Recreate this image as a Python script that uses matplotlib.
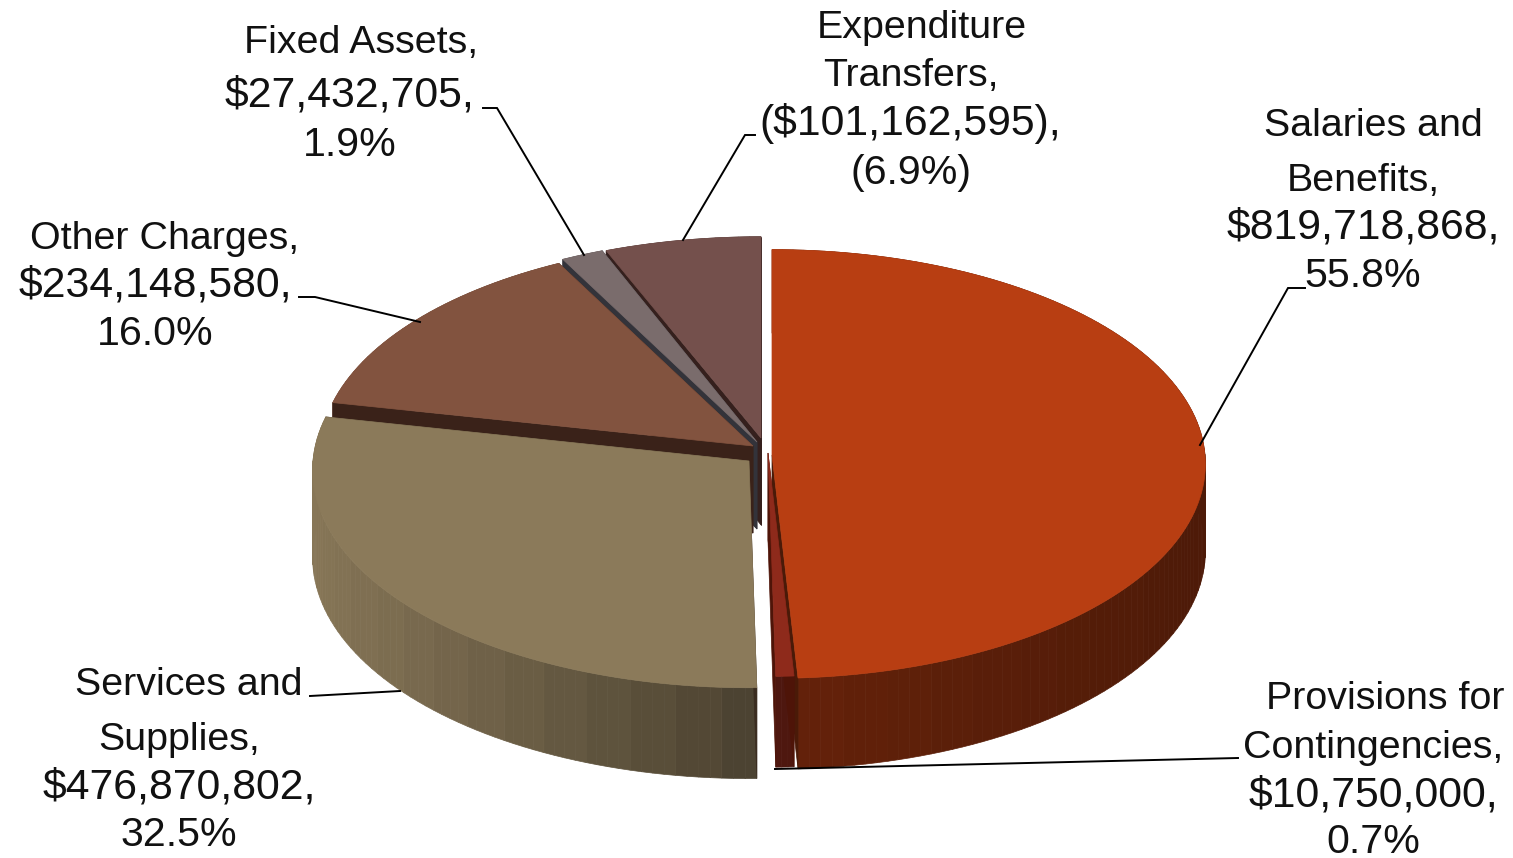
import numpy as np
import matplotlib
matplotlib.use("Agg")
import matplotlib.pyplot as plt
from matplotlib.patches import Polygon

plt.rcParams["font.family"] = ["Liberation Sans", "DejaVu Sans"]

# slice values, clockwise from 12 o'clock (negative one drawn by its size)
categories = ["Salaries and Benefits", "Provisions for Contingencies", "Services and Supplies",
              "Other Charges", "Fixed Assets", "Expenditure Transfers"]
amounts = [819718868, 10750000, 476870802, 234148580, 27432705, -101162595]

label_lines = [
    ["Salaries and", "Benefits,", "$819,718,868,", "55.8%"],
    ["Provisions for", "Contingencies,", "$10,750,000,", "0.7%"],
    ["Services and", "Supplies,", "$476,870,802,", "32.5%"],
    ["Other Charges,", "$234,148,580,", "16.0%"],
    ["Fixed Assets,", "$27,432,705,", "1.9%"],
    ["Expenditure", "Transfers,", "($101,162,595),", "(6.9%)"],
]

# styling / layout, pixels of the 1513x858 picture
top_colors = ["#B83E12", "#8E2A1B", "#8B7A5A", "#82533F", "#7A6C6C", "#74504C"]
face_colors = ["#4A1A08", "#4E1408", "#3A2C20", "#3A2219", "#33333A", "#35201D"]
apex = [(772, 455), (768, 453), (749, 461), (753, 446), (757, 442), (761, 438)]
rx_scale = [1.0, 1.0, 1.007, 1.0, 1.0, 1.0]
ry_scale = [1.0, 1.0, 1.015, 1.0, 1.0, 0.98]
label_pos = [
    [(1373, 126), (1363, 181), (1363, 228), (1363, 276)],
    [(1385, 699), (1373, 748), (1373, 795), (1373, 842)],
    [(189, 685), (179, 740), (179, 787), (179, 835)],
    [(165, 239), (155, 286), (155, 334)],
    [(361, 43), (350, 96), (350, 145)],
    [(922, 28), (911, 76), (910, 123), (911, 173)],
]
leaders = [
    [(1305, 288), (1288, 288), (1200, 445)],
    [(1238, 758), (775, 769)],
    [(310, 696), (400, 691)],
    [(299, 297), (315, 297), (420, 322)],
    [(483, 108), (497, 108), (584, 255)],
    [(755, 135), (745, 135), (683, 240)],
]

RX, RY, DEPTH, K = 433, 214, 87, 0.042


def project(i, x, y, z=0.0):
    p = 1 / (1 + K * y)
    return (apex[i][0] + x * RX * rx_scale[i] * p,
            apex[i][1] - y * RY * ry_scale[i] * p + z * DEPTH * p)


def shade(color, t):
    # wall brightness goes with the horizontal position on the rim, in wide bands
    band = np.round(t / np.radians(6)) * np.radians(6)
    f = np.interp(np.sin(band), [-1, 0, 1], [0.97, 0.55, 0.42])
    return tuple(np.array(matplotlib.colors.to_rgb(color)) * f)


def label_size(line):
    # digits run wider than the letters in the original face
    if line.rstrip(")").endswith("%"):
        return 29.6
    return 30.8 if line[0] in "$(" else 28.4


fig = plt.figure(figsize=(15.13, 8.58), dpi=100)
ax = fig.add_axes([0, 0, 1, 1])
ax.set_xlim(0, 1513)
ax.set_ylim(858, 0)
ax.axis("off")

shares = np.abs(amounts) / np.abs(amounts).sum()
edges = np.radians(np.concatenate([[0], np.cumsum(shares) * 360]))

# painter's order: back slices first, the two front ones last
for i in [5, 4, 3, 0, 2, 1]:
    ts = np.linspace(edges[i], edges[i + 1], max(4, int((edges[i + 1] - edges[i]) * 40)))
    # rim
    for a, b in zip(ts[:-1], ts[1:]):
        quad = [project(i, np.sin(a), np.cos(a)), project(i, np.sin(b), np.cos(b)),
                project(i, np.sin(b), np.cos(b), 1), project(i, np.sin(a), np.cos(a), 1)]
        c = shade(top_colors[i], (a + b) / 2)
        ax.add_patch(Polygon(quad, closed=True, fc=c, ec=c, lw=0.5))
    # cut faces
    for t in (edges[i], edges[i + 1]):
        quad = [project(i, 0, 0), project(i, np.sin(t), np.cos(t)),
                project(i, np.sin(t), np.cos(t), 1), project(i, 0, 0, 1)]
        ax.add_patch(Polygon(quad, closed=True, fc=face_colors[i], ec=face_colors[i], lw=0.5))
    # top
    top = [project(i, 0, 0)] + [project(i, np.sin(t), np.cos(t)) for t in ts]
    ax.add_patch(Polygon(top, closed=True, fc=top_colors[i], ec=top_colors[i], lw=0.5))

for pts in leaders:
    xs, ys = zip(*pts)
    ax.plot(xs, ys, color="black", lw=1.4, solid_joinstyle="miter", zorder=5)

for lines, positions in zip(label_lines, label_pos):
    for line, (x, y) in zip(lines, positions):
        ax.text(x, y, line, fontsize=label_size(line), color="#111111", ha="center", va="center", zorder=6)

fig.savefig("out.png", dpi=100)
